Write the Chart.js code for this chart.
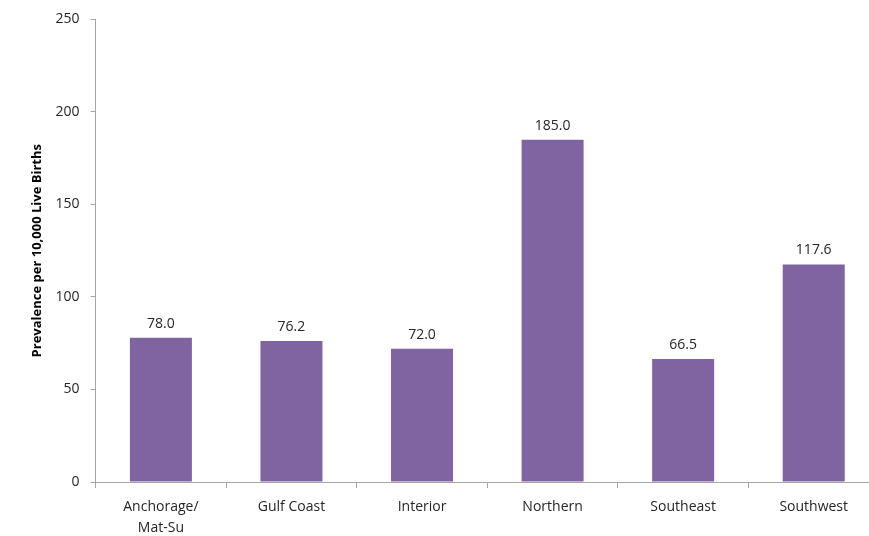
<!DOCTYPE html>
<html>
<head>
<meta charset="utf-8">
<script src="https://cdn.jsdelivr.net/npm/chart.js@4"></script>
<style>
  html, body { margin: 0; padding: 0; background: #fff; overflow: hidden; }
  #wrap { width: 880px; height: 536px; }
</style>
</head>
<body>
<div id="wrap"><canvas id="grafiek" width="880" height="536"></canvas></div>
<script>
// regio's en waarden
const regios = [["Anchorage/", "Mat-Su"], "Gulf Coast", "Interior", "Northern", "Southeast", "Southwest"];
const prevalentie = [78.0, 76.2, 72.0, 185.0, 66.5, 117.6];
const asTitel = "Prevalence per 10,000 Live Births";

const lettertype = "'Open Sans', 'Liberation Sans', sans-serif";
const grijs = "#a6a6a6";

// labels boven de staven
const waardeLabels = {
  id: "waardeLabels",
  afterDatasetsDraw(chart) {
    const ctx = chart.ctx;
    const meta = chart.getDatasetMeta(0);
    ctx.save();
    ctx.font = "14px " + lettertype;
    ctx.fillStyle = "#262626";
    ctx.textAlign = "center";
    ctx.textBaseline = "bottom";
    meta.data.forEach((bar, i) => {
      ctx.fillText(prevalentie[i].toFixed(1), bar.x, bar.y - 7);
    });
    ctx.restore();
  }
};

new Chart(document.getElementById("grafiek").getContext("2d"), {
  type: "bar",
  data: {
    labels: regios,
    datasets: [{
      data: prevalentie,
      backgroundColor: "#8064A2",
      categoryPercentage: 1,
      barPercentage: 0.475
    }]
  },
  options: {
    responsive: false,
    animation: false,
    layout: { padding: { top: 18, right: 1, left: 29, bottom: -12 } },
    plugins: {
      legend: { display: false },
      tooltip: { enabled: false }
    },
    scales: {
      x: {
        grid: { drawOnChartArea: false, drawTicks: true, tickLength: 6, color: grijs },
        border: { display: true, color: grijs },
        ticks: { color: "#262626", font: { family: lettertype, size: 14, lineHeight: 1.5 }, padding: 9, maxRotation: 0 }
      },
      y: {
        min: 0,
        max: 250,
        ticks: { stepSize: 50, color: "#262626", font: { family: lettertype, size: 14 }, padding: 11 },
        grid: { drawOnChartArea: false, drawTicks: true, tickLength: 5, color: grijs },
        border: { display: true, color: grijs },
        title: {
          display: true,
          text: asTitel,
          color: "#000",
          font: { family: lettertype, size: 13, weight: "bold" },
          padding: { top: 0, bottom: 0 }
        }
      }
    }
  },
  plugins: [waardeLabels]
});
</script>
</body>
</html>
